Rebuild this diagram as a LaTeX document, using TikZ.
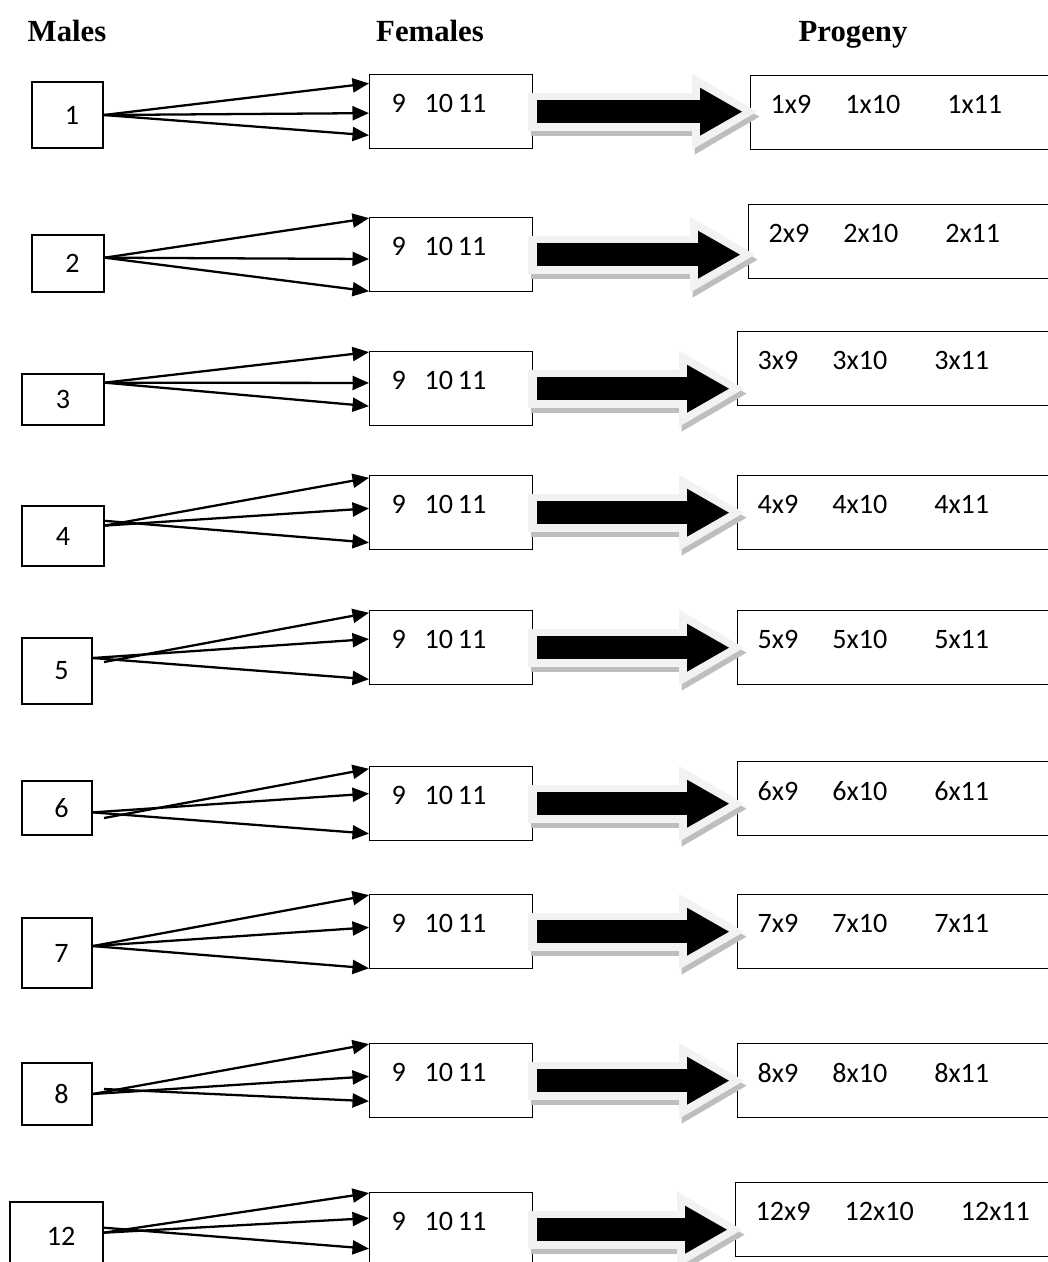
\documentclass[tikz,border=0pt]{standalone}
\usepackage{fontspec}
\setmainfont{Carlito}
\newfontfamily\headfont{Liberation Serif}
\usetikzlibrary{arrows.meta}
\definecolor{arrowrim}{RGB}{242,242,242}
\definecolor{arrowshade}{RGB}{190,190,190}

\begin{document}
\begin{tikzpicture}[
    x=0.02cm, y=-0.02cm,
    head/.style={font=\headfont\bfseries\fontsize{17.5}{20}\selectfont, anchor=base, inner sep=0pt},
    male/.style={rectangle, draw=black, line width=0.8pt, inner sep=0pt,
                 font=\fontsize{16}{19}\selectfont},
    female/.style={rectangle, draw=black, line width=0.8pt, anchor=north west,
                   minimum width=3.26cm, minimum height=1.48cm, inner xsep=0.44cm,
                   text width=2.38cm, align=left, text depth=9pt,
                   font=\fontsize{16}{19}\selectfont},
    progeny/.style={female, minimum width=6.4cm, inner xsep=0.4cm, text width=5.6cm},
    cross/.style={-{Triangle[length=0.33cm, width=0.28cm]}, line width=1.3pt},
    blockarrow/.style={draw=black, line width=0.46cm,
        -{Triangle[length=0.84cm, width=0.96cm, line width=0pt]},
        shorten <=0.08cm, shorten >=0.16cm,
        preaction={draw=arrowshade, line width=0.76cm,
            -{Triangle[length=1.3cm, width=1.52cm, line width=0pt]},
            shorten <=-0.1cm, shorten >=-0.14cm,
            transform canvas={xshift=0.05cm, yshift=-0.1cm}},
        preaction={draw=arrowrim, line width=0.76cm,
            -{Triangle[length=1.3cm, width=1.52cm, line width=0pt]},
            shorten <=-0.1cm, shorten >=-0.14cm}}
]
\useasboundingbox (0,0) rectangle (1048,1262);
\clip (0,0) rectangle (1048,1262);

%% column heads
\node[head] (hm) at (67,41) {Males};
\node[head] (hf) at (430,41) {Females};
\node[head] (hp) at (853,41) {Progeny};

%% males
\node[male, minimum width=1.42cm, minimum height=1.32cm] (m1) at (67.5,115) {\hspace{0.18cm}1};
\node[male, minimum width=1.44cm, minimum height=1.14cm] (m2) at (68,263.5) {\hspace{0.18cm}2};
\node[male, minimum width=1.64cm, minimum height=1.02cm] (m3) at (63,399.5) {3};
\node[male, minimum width=1.64cm, minimum height=1.2cm] (m4) at (63,536) {4};
\node[male, minimum width=1.4cm, minimum height=1.32cm] (m5) at (57,671) {\hspace{0.18cm}5};
\node[male, minimum width=1.4cm, minimum height=1.08cm] (m6) at (57,808) {\hspace{0.18cm}6};
\node[male, minimum width=1.4cm, minimum height=1.4cm] (m7) at (57,953) {\hspace{0.18cm}7};
\node[male, minimum width=1.4cm, minimum height=1.24cm] (m8) at (57,1094) {\hspace{0.18cm}8};
\node[male, minimum width=1.86cm, minimum height=1.36cm] (m12) at (56.5,1236) {\hspace{0.18cm}12};
\coordinate (k5) at (104,662);
\coordinate (k6) at (104,818);
\coordinate (k8) at (104,1089);

%% females
\node[female] (f1) at (369,74) {9\ \ 10\,11};
\node[female] (f2) at (369,217) {9\ \ 10\,11};
\node[female] (f3) at (369,351) {9\ \ 10\,11};
\node[female] (f4) at (369,475) {9\ \ 10\,11};
\node[female] (f5) at (369,610) {9\ \ 10\,11};
\node[female] (f6) at (369,766) {9\ \ 10\,11};
\node[female] (f7) at (369,894) {9\ \ 10\,11};
\node[female] (f8) at (369,1043) {9\ \ 10\,11};
\node[female] (f12) at (369,1192) {9\ \ 10\,11};

%% progeny
\node[progeny] (p1) at (750,75) {1x9\hspace{0.68cm}1x10\hspace{0.94cm}1x11};
\node[progeny] (p2) at (748,204) {2x9\hspace{0.68cm}2x10\hspace{0.94cm}2x11};
\node[progeny] (p3) at (737,331) {3x9\hspace{0.68cm}3x10\hspace{0.94cm}3x11};
\node[progeny] (p4) at (737,475) {4x9\hspace{0.68cm}4x10\hspace{0.94cm}4x11};
\node[progeny] (p5) at (737,610) {5x9\hspace{0.68cm}5x10\hspace{0.94cm}5x11};
\node[progeny] (p6) at (737,761) {6x9\hspace{0.68cm}6x10\hspace{0.94cm}6x11};
\node[progeny] (p7) at (737,894) {7x9\hspace{0.68cm}7x10\hspace{0.94cm}7x11};
\node[progeny] (p8) at (737,1043) {8x9\hspace{0.68cm}8x10\hspace{0.94cm}8x11};
\node[progeny] (p12) at (735,1182) {12x9\hspace{0.68cm}12x10\hspace{0.94cm}12x11};

%% crossings male -> females
\draw[cross] (m1.east) -- (f1.161);
\draw[cross] (m1.east) -- (f1.181);
\draw[cross] (m1.east) -- (f1.196);
\draw[cross] (m2.9) -- (f2.156);
\draw[cross] (m2.9) -- (f2.183);
\draw[cross] (m2.9) -- (f2.204);
\draw[cross] (m3.22) -- (f3.156);
\draw[cross] (m3.22) -- (f3.176);
\draw[cross] (m3.22) -- (f3.192);
\draw[cross] (m4.14) -- (f4.157);
\draw[cross] (m4.14) -- (f4.177);
\draw[cross] (m4.20) -- (f4.200);
\draw[cross] (k5) -- (f5.157);
\draw[cross] (m5.20) -- (f5.174);
\draw[cross] (m5.20) -- (f5.201);
\draw[cross] (k6) -- (f6.157);
\draw[cross] (m6.353) -- (f6.173);
\draw[cross] (m6.353) -- (f6.200);
\draw[cross] (m7.11) -- (f7.156);
\draw[cross] (m7.11) -- (f7.177);
\draw[cross] (m7.11) -- (f7.204);
\draw[cross] (m8.east) -- (f8.156);
\draw[cross] (m8.east) -- (f8.177);
\draw[cross] (k8) -- (f8.194);
\draw[cross] (m12.4) -- (f12.156);
\draw[cross] (m12.4) -- (f12.172);
\draw[cross] (m12.10) -- (f12.193);

%% block arrows females -> progeny
\draw[blockarrow] (f1.east) -- (f1.east -| p1.west);
\draw[blockarrow] (f2.east) -- (f2.east -| p2.west);
\draw[blockarrow] (f3.east) -- (f3.east -| p3.west);
\draw[blockarrow] (f4.east) -- (f4.east -| p4.west);
\draw[blockarrow] (f5.east) -- (f5.east -| p5.west);
\draw[blockarrow] (f6.east) -- (f6.east -| p6.west);
\draw[blockarrow] (f7.east) -- (f7.east -| p7.west);
\draw[blockarrow] (f8.east) -- (f8.east -| p8.west);
\draw[blockarrow] (f12.east) -- (f12.east -| p12.west);
\end{tikzpicture}
\end{document}
